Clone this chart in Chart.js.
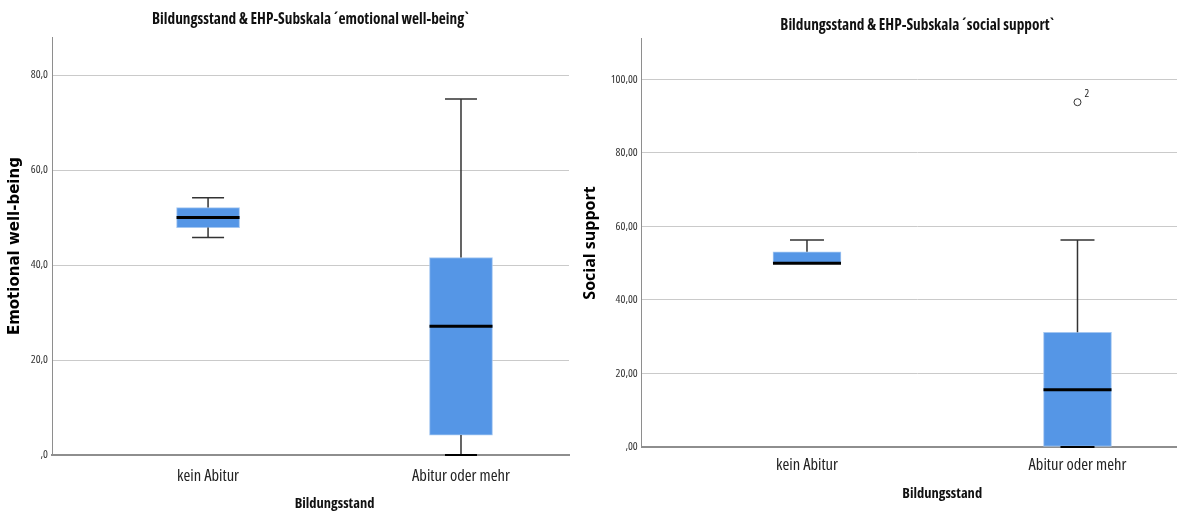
<!DOCTYPE html>
<html>
<head>
<meta charset="utf-8">
<script src="https://cdn.jsdelivr.net/npm/chart.js@4.4.1/dist/chart.umd.min.js"></script>
<style>
body { margin: 0; width: 1177px; height: 515px; overflow: hidden; background: #fff; position: relative; }
#left { position: absolute; left: 0; top: 0; }
#right { position: absolute; left: 578px; top: 0; }
</style>
</head>
<body>
<canvas id="left" width="585" height="515"></canvas>
<canvas id="right" width="620" height="515"></canvas>
<script>
const categories = ['kein Abitur', 'Abitur oder mehr'];
const xAxisTitle = 'Bildungsstand';

// emotional well-being
const emoMin = [45.8, 0];
const emoQ1 = [47.9, 4.2];
const emoMedian = [50.0, 27.1];
const emoQ3 = [52.1, 41.6];
const emoMax = [54.2, 75.0];

// social support
const socMin = [50.0, 0];
const socQ1 = [50.0, 0];
const socMedian = [50.0, 15.6];
const socQ3 = [53.1, 31.2];
const socMax = [56.3, 56.3];
const socOutlierCat = [2];
const socOutlierValue = [93.8];
const socOutlierLabel = ['2'];

// Open Sans with the condensed width gives the SPSS look
const cond = "'Open Sans', sans-serif";
const boxFill = '#5596e6';
const boxEdge = '#a3c6f1';
const gridColor = '#cacaca';
const axisColor = '#8e8e8e';

// whiskers, caps and medians, drawn through the chart's own scales
const boxPlotLines = {
    id: 'boxPlotLines',
    afterDatasetsDraw(chart, args, opts) {
        const ctx = chart.ctx;
        const x = chart.scales.x, y = chart.scales.y;
        ctx.save();
        opts.median.forEach((m, i) => {
            const cx = x.getPixelForValue(i + 1);
            const yMin = y.getPixelForValue(opts.min[i]);
            const yMax = y.getPixelForValue(opts.max[i]);
            const yQ1 = y.getPixelForValue(opts.q1[i]);
            const yQ3 = y.getPixelForValue(opts.q3[i]);
            ctx.strokeStyle = '#333';
            ctx.lineWidth = 1.5;
            ctx.beginPath();
            ctx.moveTo(cx, yQ3); ctx.lineTo(cx, yMax);
            ctx.moveTo(cx, yQ1); ctx.lineTo(cx, yMin);
            ctx.moveTo(cx - opts.cap / 2, yMax); ctx.lineTo(cx + opts.cap / 2, yMax);
            ctx.stroke();
            if (opts.min[i] < opts.q1[i] || opts.min[i] === 0) {
                ctx.strokeStyle = opts.min[i] === 0 ? '#000' : '#333';
                ctx.lineWidth = opts.min[i] === 0 ? 2 : 1.5;
                ctx.beginPath();
                ctx.moveTo(cx - opts.cap / 2, yMin); ctx.lineTo(cx + opts.cap / 2, yMin);
                ctx.stroke();
            }
            ctx.strokeStyle = '#000';
            ctx.lineWidth = 3;
            ctx.beginPath();
            ctx.moveTo(cx - opts.width / 2, y.getPixelForValue(m));
            ctx.lineTo(cx + opts.width / 2, y.getPixelForValue(m));
            ctx.stroke();
        });
        (opts.outlierLabel || []).forEach((t, i) => {
            ctx.fillStyle = '#222';
            ctx.font = "condensed 11px " + cond;
            ctx.textAlign = 'left';
            ctx.fillText(t, x.getPixelForValue(opts.outlierCat[i]) + 7, y.getPixelForValue(opts.outlierValue[i]) - 5);
        });
        // axis title sits centred between the two groups, as SPSS does
        ctx.fillStyle = '#111';
        ctx.font = "bold condensed 14.5px " + cond;
        ctx.textAlign = 'center';
        ctx.textBaseline = 'middle';
        ctx.fillText(xAxisTitle, x.getPixelForValue((1 + categories.length) / 2), chart.height - opts.xTitleBottom);
        ctx.restore();
    }
};

function makeBoxChart(id, cfg) {
    const datasets = [{
        type: 'bar',
        data: categories.map((c, i) => ({ x: i + 1, y: [cfg.q1[i], cfg.q3[i]] })),
        backgroundColor: boxFill,
        borderColor: boxEdge,
        borderWidth: 1,
        borderSkipped: false,
        barThickness: cfg.boxWidth,
        order: 2
    }];
    if (cfg.outlierValue) {
        datasets.push({
            type: 'scatter',
            data: cfg.outlierValue.map((v, i) => ({ x: cfg.outlierCat[i], y: v })),
            pointStyle: 'circle',
            pointRadius: 3.5,
            pointBorderColor: '#333',
            pointBackgroundColor: '#fff',
            pointBorderWidth: 1,
            order: 1
        });
    }
    return new Chart(document.getElementById(id), {
        type: 'bar',
        data: { datasets: datasets },
        plugins: [boxPlotLines],
        options: {
            responsive: false,
            animation: false,
            layout: { padding: { left: 0, right: cfg.padRight, top: 0, bottom: 0 } },
            plugins: {
                legend: { display: false },
                tooltip: { enabled: false },
                title: {
                    display: true,
                    text: cfg.title,
                    fullSize: false,
                    color: '#111',
                    font: { family: cond, size: 15.3, weight: 'bold condensed' },
                    padding: cfg.titlePad
                },
                boxPlotLines: {
                    min: cfg.min, q1: cfg.q1, median: cfg.median, q3: cfg.q3, max: cfg.max,
                    width: cfg.boxWidth, cap: cfg.cap, xTitleBottom: cfg.xTitleBottom,
                    outlierCat: cfg.outlierCat, outlierValue: cfg.outlierValue, outlierLabel: cfg.outlierLabel
                }
            },
            scales: {
                x: {
                    type: 'linear',
                    offset: false,
                    min: cfg.xMin,
                    max: cfg.xMax,
                    afterFit: s => { s.height = cfg.xHeight; },
                    afterBuildTicks: s => { s.ticks = categories.map((c, i) => ({ value: i + 1 })); },
                    grid: { display: false, drawTicks: false, offset: false },
                    border: { display: true, color: axisColor, width: 2 },
                    ticks: {
                        padding: cfg.xTickPad,
                        autoSkip: false,
                        maxRotation: 0,
                        color: '#222',
                        font: { family: cond, size: 16.5, weight: 'condensed' },
                        callback: v => categories[v - 1]
                    }
                },
                y: {
                    min: 0,
                    max: cfg.yMax,
                    afterFit: s => { s.width = cfg.yWidth; },
                    afterBuildTicks: s => { s.ticks = s.ticks.filter(t => t.value % 20 === 0); },
                    grid: { color: gridColor, lineWidth: 1, drawTicks: false },
                    border: { display: true, color: axisColor, width: 1 },
                    ticks: {
                        stepSize: 20,
                        padding: 4,
                        color: '#333',
                        font: { family: cond, size: 11.5, weight: 'condensed' },
                        callback: v => v === 0 ? ',' + '0'.repeat(cfg.decimals) : v.toFixed(cfg.decimals).replace('.', ',')
                    },
                    title: {
                        display: true,
                        text: cfg.yTitle,
                        color: '#000',
                        font: cfg.yTitleFont,
                        padding: { top: cfg.yTitlePad, bottom: 0 }
                    }
                }
            }
        }
    });
}

makeBoxChart('left', {
    title: 'Bildungsstand & EHP-Subskala \u00b4emotional well-being`',
    titlePad: { top: 10.8, bottom: 8 },
    yTitle: 'Emotional well-being',
    yTitleFont: { family: "'DejaVu Sans', sans-serif", size: 15, weight: 'bold' },
    yTitlePad: 6,
    yWidth: 52,
    yMax: 88,
    decimals: 1,
    xMin: 0.383,
    xMax: 2.427,
    xHeight: 60,
    xTickPad: 11,
    xTitleBottom: 11,
    padRight: 16,
    boxWidth: 63,
    cap: 32,
    min: emoMin, q1: emoQ1, median: emoMedian, q3: emoQ3, max: emoMax
});

makeBoxChart('right', {
    title: 'Bildungsstand & EHP-Subskala \u00b4social support`',
    titlePad: { top: 16.4, bottom: 4.2 },
    yTitle: 'Social support',
    yTitleFont: { family: "'Open Sans', sans-serif", size: 16, weight: 'bold' },
    yTitlePad: 2.4,
    yWidth: 63.7,
    yMax: 111,
    decimals: 2,
    xMin: 0.389,
    xMax: 2.427,
    xHeight: 68,
    xTickPad: 8,
    xTitleBottom: 21,
    padRight: 3,
    boxWidth: 68,
    cap: 34,
    min: socMin, q1: socQ1, median: socMedian, q3: socQ3, max: socMax,
    outlierCat: socOutlierCat, outlierValue: socOutlierValue, outlierLabel: socOutlierLabel
});
</script>
</body>
</html>
